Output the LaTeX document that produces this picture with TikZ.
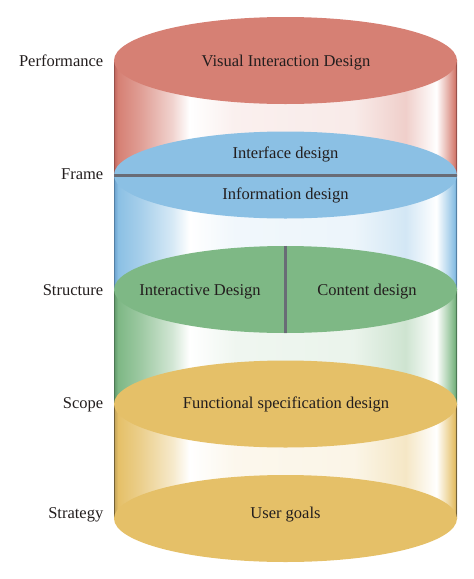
\documentclass[tikz,border=0pt]{standalone}
\usepackage{fontspec}
\setmainfont{Liberation Serif}
\definecolor{cRed}{RGB}{214,128,116}
\definecolor{cRedD}{RGB}{190,100,92}
\definecolor{cBlue}{RGB}{139,192,228}
\definecolor{cBlueD}{RGB}{105,160,205}
\definecolor{cGreen}{RGB}{126,184,133}
\definecolor{cGreenD}{RGB}{95,150,105}
\definecolor{cYel}{RGB}{229,192,104}
\definecolor{cYelD}{RGB}{190,160,90}
\definecolor{cLine}{RGB}{105,108,118}
\definecolor{cText}{RGB}{35,30,30}
\newcommand{\mkband}[3]{%
  \pgfdeclarehorizontalshading{#1}{100bp}{%
    color(0bp)=(#3); color(25bp)=(#3); color(25.6bp)=(#2);
    color(29bp)=(#2!75!white); color(33.5bp)=(#2!35!white);
    color(36bp)=(white); color(42.5bp)=(#2!12!white);
    color(60bp)=(#2!16!white); color(67.5bp)=(#2!38!white);
    color(72bp)=(white); color(73.6bp)=(#2!60!white);
    color(74.6bp)=(#2); color(75bp)=(#3); color(100bp)=(#3)}}
\mkband{redband}{cRed}{cRedD}
\mkband{blueband}{cBlue}{cBlueD}
\mkband{greenband}{cGreen}{cGreenD}
\mkband{yelband}{cYel}{cYelD}
\tikzset{
  disc/.style={draw=none, ellipse, minimum width=343pt, minimum height=87pt, inner sep=0pt},
  lbl/.style={anchor=base east, inner sep=0pt, text=cText, font=\fontsize{16.5}{19}\selectfont},
  txt/.style={anchor=base, inner sep=0pt, text=cText, font=\fontsize{16.5}{19}\selectfont},
  sep/.style={draw=cLine, line width=3pt},
}
\usetikzlibrary{shapes.geometric}
\begin{document}
\begin{tikzpicture}[x=1pt, y=-1pt]
\useasboundingbox (0,0) rectangle (474,579);
% bands
\shade[shading=redband] (114,60.5) rectangle (457,175);
\shade[shading=blueband] (114,175) rectangle (457,289.5);
\shade[shading=greenband] (114,289.5) rectangle (457,404);
\shade[shading=yelband] (114,404) rectangle (457,518.5);
% side outlines
\draw[cRedD!80!black, line width=0.6pt] (114.3,60.5) -- (114.3,175) (456.7,60.5) -- (456.7,175);
\draw[cBlueD!80!black, line width=0.6pt] (114.3,175) -- (114.3,289.5) (456.7,175) -- (456.7,289.5);
\draw[cGreenD!80!black, line width=0.6pt] (114.3,289.5) -- (114.3,404) (456.7,289.5) -- (456.7,404);
\draw[cYelD!60!black, line width=0.6pt] (114.3,404) -- (114.3,518.5) (456.7,404) -- (456.7,518.5);
% discs
\node[disc, fill=cRed] (perf) at (285.5,60.5) {};
\node[disc, fill=cBlue] (frame) at (285.5,175) {};
\node[disc, fill=cGreen] (struct) at (285.5,289.5) {};
\node[disc, fill=cYel] (scope) at (285.5,404) {};
\node[disc, fill=cYel] (strat) at (285.5,518.5) {};
% separators
\draw[sep] (frame.west) -- (frame.east);
\draw[sep] (struct.north) -- (struct.south);
% texts in discs
\node[txt] (t1) at (286,66.5) {Visual Interaction Design};
\node[txt] (t2) at (285.5,158.5) {Interface design};
\node[txt] (t3) at (285.5,199.5) {Information design};
\node[txt] (t4) at (200,295.5) {Interactive Design};
\node[txt] (t5) at (367,295.5) {Content design};
\node[txt] (t6) at (286,408.5) {Functional specification design};
\node[txt] (t7) at (285.5,518.5) {User goals};
% side labels
\node[lbl] (l1) at (103.5,66.5) {Performance};
\node[lbl] (l2) at (103.5,179) {Frame};
\node[lbl] (l3) at (103.5,295.5) {Structure};
\node[lbl] (l4) at (103.5,408.5) {Scope};
\node[lbl] (l5) at (103.5,518.5) {Strategy};
\end{tikzpicture}
\end{document}
